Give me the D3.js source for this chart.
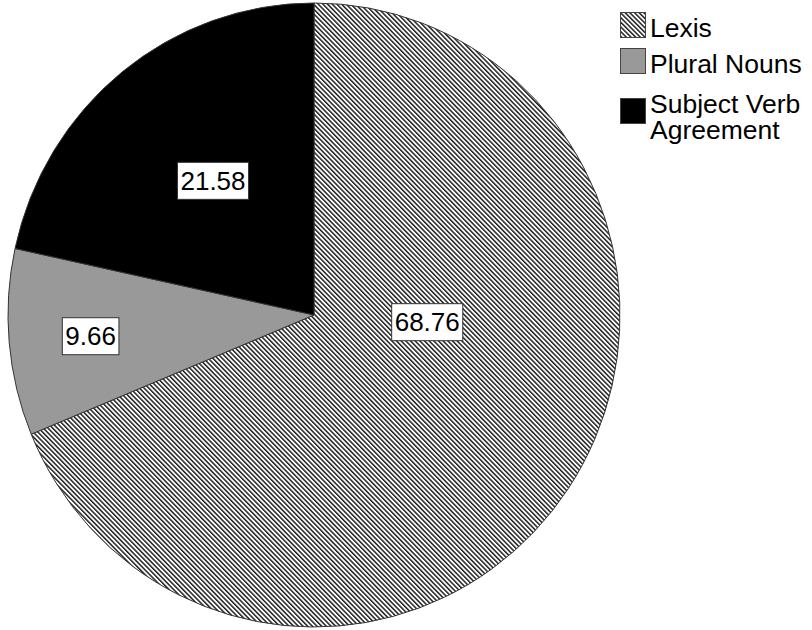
<!DOCTYPE html>
<html><head><meta charset="utf-8">
<script src="https://cdn.jsdelivr.net/npm/d3@7"></script>
<style>html,body{margin:0;padding:0;background:#fff;}svg{display:block;font-family:"Liberation Sans",Arial,sans-serif;}</style>
</head><body>
<svg id="chart" width="812" height="630"></svg>
<script>
const categories = ["Lexis", "Plural Nouns", "Subject Verb Agreement"];
const values = [68.76, 9.66, 21.58];
const valueLabels = ["68.76", "9.66", "21.58"];
const legendLines = [["Lexis"], ["Plural Nouns"], ["Subject Verb", "Agreement"]];

// layout (not data)
const cx = 314, cy = 315, rx = 306, ry = 312;
const labelAnchors = [[0.37, 0.023], [-0.73, 0.068], [-0.33, -0.43]]; // relative to radius

const svg = d3.select("#chart");
const defs = svg.append("defs");
const pat = defs.append("pattern").attr("id","hatch").attr("patternUnits","userSpaceOnUse")
  .attr("width", 3.3).attr("height", 10).attr("patternTransform","rotate(-45)");
pat.append("rect").attr("width",3.3).attr("height",10).attr("fill","#fff");
pat.append("rect").attr("x",0).attr("width",1.5).attr("height",10).attr("fill","#222");

const fills = ["url(#hatch)", "#999999", "#000000"];

const pie = d3.pie().sort(null).value(d => d)(values);
const arc = d3.arc().innerRadius(0).outerRadius(rx);

const g = svg.append("g").attr("transform", `translate(${cx},${cy}) scale(1,${ry/rx})`);
g.selectAll("path").data(pie).join("path")
  .attr("d", arc)
  .attr("fill", (d,i) => fills[i])
  .attr("stroke", "#333")
  .attr("stroke-width", 1)
  .attr("vector-effect","non-scaling-stroke");

// value labels
const lg = svg.append("g");
valueLabels.forEach((t,i) => {
  const x = cx + labelAnchors[i][0]*rx, y = cy + labelAnchors[i][1]*ry;
  const grp = lg.append("g");
  const txt = grp.append("text").attr("x", x).attr("y", y).attr("text-anchor","middle")
    .attr("dominant-baseline","central").attr("font-size", 26).attr("fill","#000").text(t);
  const bb = txt.node().getBBox();
  grp.insert("rect","text").attr("x", bb.x - 3).attr("y", y - 18.5).attr("width", bb.width + 6)
    .attr("height", 37).attr("fill","#fff").attr("stroke","#333").attr("stroke-width",1);
});

// legend
const legY = [12, 48, 98];
const legBase = [37, 73, 113];
const leg = svg.append("g");
categories.forEach((c,i) => {
  leg.append("rect").attr("x", 620.5).attr("y", legY[i] + 0.5).attr("width", 25).attr("height", 25)
    .attr("fill", fills[i]).attr("stroke","#444").attr("stroke-width",1);
  const t = leg.append("text").attr("x", 650).attr("y", legBase[i])
    .attr("font-size", 26.5).attr("fill","#000");
  legendLines[i].forEach((ln,j) => {
    t.append("tspan").attr("x", 650).attr("dy", j === 0 ? 0 : 26).text(ln);
  });
});
</script>
</body></html>
